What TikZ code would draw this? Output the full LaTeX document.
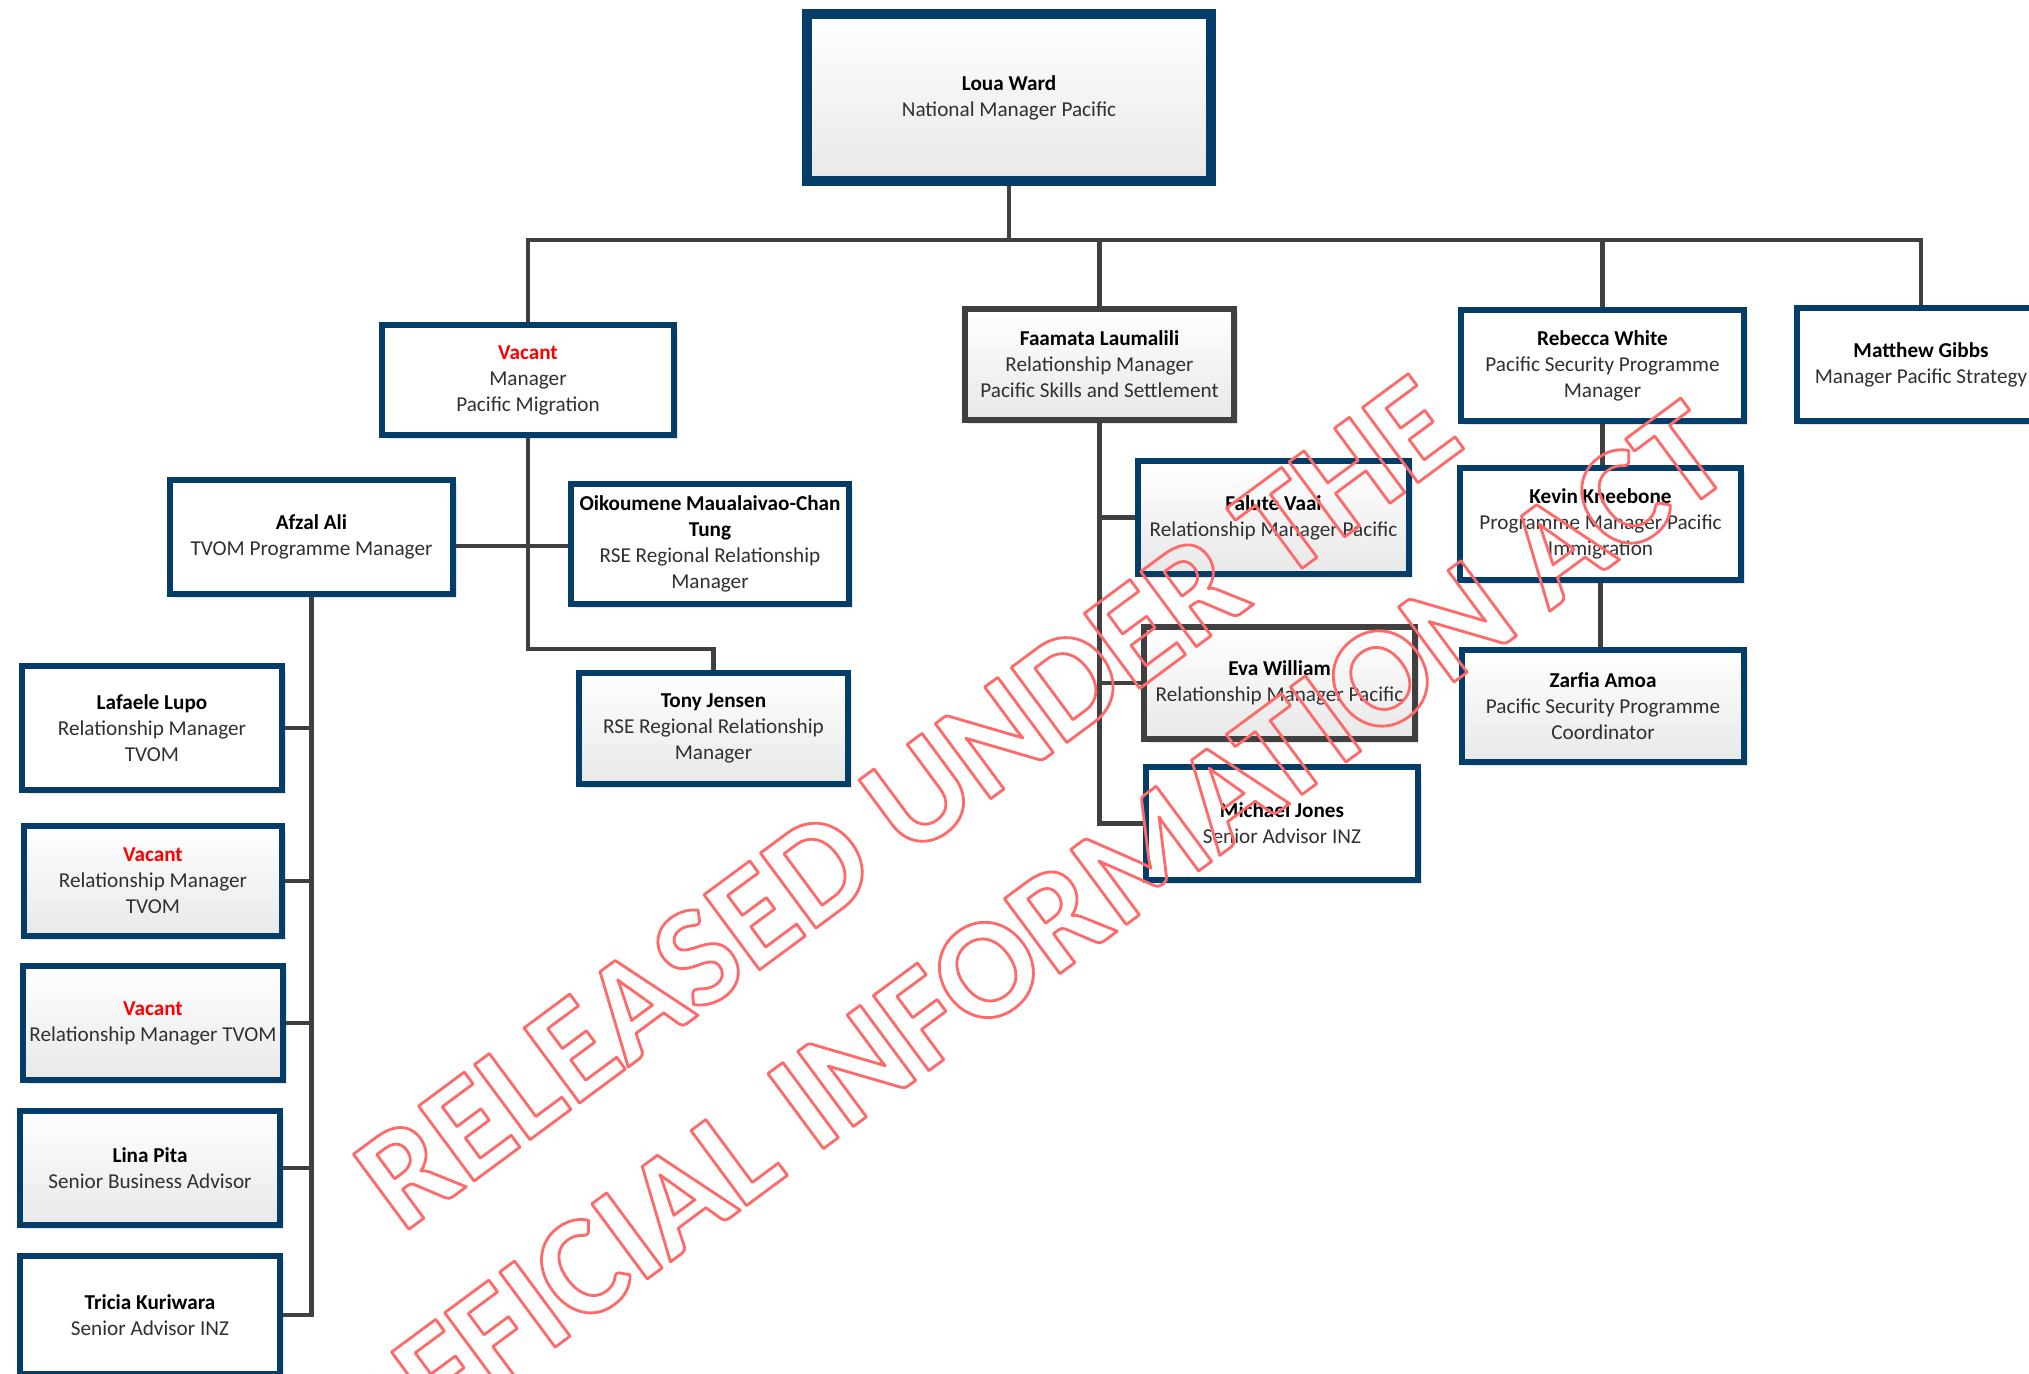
\documentclass[tikz,border=0pt]{standalone}
\usepackage{fontspec}
\setmainfont{Carlito}
\usetikzlibrary{shadows}
\definecolor{navy}{RGB}{4,62,104}
\definecolor{conncol}{RGB}{64,64,64}
\definecolor{txt}{RGB}{48,48,48}
\definecolor{wmred}{RGB}{255,105,105}
\definecolor{vacred}{RGB}{255,0,0}
\newcommand\wmoutline[1]{\special{pdf:literal direct 1 Tr 1 j 1.4 w}#1\special{pdf:literal direct 0 Tr}}
\newcommand\nm[1]{{\bfseries\color{black}#1}}
\newcommand\vac{{\bfseries\color{vacred}Vacant}}
\tikzset{
  person/.style={draw=navy, line width=3pt, fill=white, align=center, inner sep=0pt,
    font=\fontsize{10.6}{13}\selectfont, text=txt,
    drop shadow={shadow xshift=2pt, shadow yshift=-2pt, fill=black, opacity=0.10}},
  grad/.style={top color=white, bottom color=black!9},
  greyb/.style={draw=conncol},
  conn/.style={draw=conncol, line width=2.4pt, line join=miter},
  wm/.style={rotate=36.5, anchor=base, text=wmred, inner sep=0pt,
    font=\fontsize{72}{80}\selectfont\bfseries}
}
\begin{document}
\begin{tikzpicture}[x=0.5pt, y=-0.5pt]
\useasboundingbox (0,0) rectangle (2029,1374);
\clip (0,0) rectangle (2029,1374);
\fill[white] (0,0) rectangle (2029,1374);

% boxes
\node[person, grad, line width=5pt, minimum width=202pt, minimum height=83.5pt] (loua) at (1009,97.5)
  {\nm{Loua Ward}\\National Manager Pacific};
\node[person, minimum width=146pt, minimum height=55pt] (vman) at (528,380)
  {\vac\\Manager\\Pacific Migration};
\node[person, grad, greyb, minimum width=134.5pt, minimum height=55.5pt] (faam) at (1099.5,364.5)
  {\nm{Faamata Laumalili}\\Relationship Manager\\Pacific Skills and Settlement};
\node[person, minimum width=141.5pt, minimum height=55.5pt] (rebe) at (1602.5,365.5)
  {\nm{Rebecca White}\\Pacific Security Programme\\Manager};
\node[person, minimum width=124pt, minimum height=56.5pt] (matt) at (1921,364.5)
  {\nm{Matthew Gibbs}\\Manager Pacific Strategy};
\node[person, minimum width=141.5pt, minimum height=57pt] (afza) at (311.5,537)
  {\nm{Afzal Ali}\\TVOM Programme Manager};
\node[person, minimum width=139pt, minimum height=60pt] (oiko) at (710,544)
  {\nm{Oikoumene Maualaivao-Chan}\\\nm{Tung}\\RSE Regional Relationship\\Manager};
\node[person, grad, minimum width=134.5pt, minimum height=55.5pt] (tony) at (713.5,728.5)
  {\nm{Tony Jensen}\\RSE Regional Relationship\\Manager};
\node[person, grad, minimum width=135.5pt, minimum height=56.5pt] (falu) at (1273.5,517.5)
  {\nm{Falute Vaai}\\Relationship Manager Pacific};
\node[person, grad, greyb, minimum width=135.5pt, minimum height=56pt] (eva) at (1279.5,683)
  {\nm{Eva William}\\Relationship Manager Pacific};
\node[person, minimum width=136pt, minimum height=56.5pt] (mich) at (1282,823.5)
  {\nm{Michael Jones}\\Senior Advisor INZ};
\node[person, minimum width=140.5pt, minimum height=56pt] (kevi) at (1600.5,524)
  {\nm{Kevin Kneebone}\\Programme Manager Pacific\\Immigration};
\node[person, grad, minimum width=141pt, minimum height=56pt] (zarf) at (1603,706)
  {\nm{Zarfia Amoa}\\Pacific Security Programme\\Coordinator};
\node[person, minimum width=130pt, minimum height=62pt] (lafa) at (152,728)
  {\nm{Lafaele Lupo}\\Relationship Manager\\TVOM};
\node[person, grad, minimum width=129pt, minimum height=55pt] (vac2) at (153,881)
  {\vac\\Relationship Manager\\TVOM};
\node[person, grad, minimum width=130pt, minimum height=57pt] (vac3) at (153,1023)
  {\vac\\Relationship Manager TVOM};
\node[person, grad, minimum width=130pt, minimum height=57pt] (lina) at (150,1168)
  {\nm{Lina Pita}\\Senior Business Advisor};
\node[person, minimum width=130pt, minimum height=59pt] (tric) at (150,1315)
  {\nm{Tricia Kuriwara}\\Senior Advisor INZ};

% connectors
\coordinate (busy) at (0,240);
\coordinate (tturn) at (0,649);
\coordinate (h1) at (0,546);
\draw[conn] (vman.north) |- (matt.north |- busy) -- (matt.north);
\draw[conn] (loua.south) -- (loua.south |- busy);
\draw[conn] (faam.north) -- (faam.north |- busy);
\draw[conn] (rebe.north) -- (rebe.north |- busy);
\draw[conn] (vman.south) |- (tony.north |- tturn) -- (tony.north);
\draw[conn] (afza.east |- h1) -- (oiko.west |- h1);
\draw[conn] (afza.south) |- (tric.east);
\draw[conn] (afza.south |- lafa.east) -- (lafa.east);
\draw[conn] (afza.south |- vac2.east) -- (vac2.east);
\draw[conn] (afza.south |- vac3.east) -- (vac3.east);
\draw[conn] (afza.south |- lina.east) -- (lina.east);
\draw[conn] (faam.south) |- (mich.west);
\draw[conn] (faam.south |- falu.west) -- (falu.west);
\draw[conn] (faam.south |- eva.west) -- (eva.west);
\draw[conn] (rebe.south) -- (rebe.south |- kevi.north);
\draw[conn] (kevi.south) -- (kevi.south |- zarf.north);

% watermark
\node[wm] (wm1) at (935,840) {\wmoutline{RELEASED UNDER THE}};
\node[wm] (wm2) at (1050,981) {\wmoutline{OFFICIAL INFORMATION ACT}};
\end{tikzpicture}
\end{document}
